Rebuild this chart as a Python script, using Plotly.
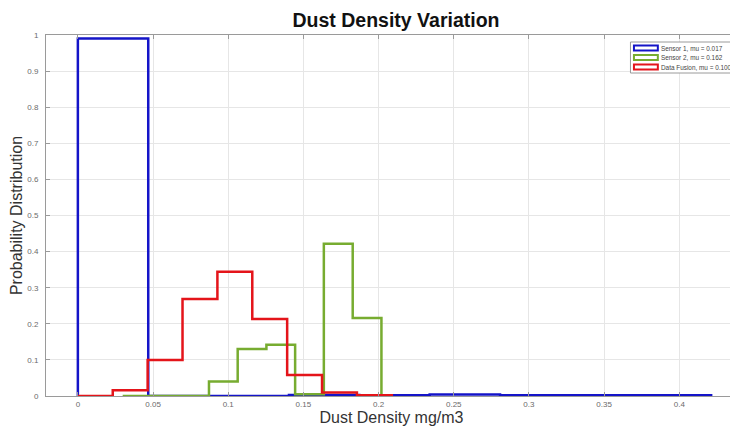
import plotly.graph_objects as go

# Bin edges and probabilities
s1_edges = [0.0, 0.0468, 0.0936, 0.1404, 0.1872, 0.2340, 0.2808, 0.3276, 0.3744, 0.4212]
s1_probs = [0.990, 0.0, 0.0, 0.003, 0.002, 0.004, 0.002, 0.002, 0.002]

s2_edges = [0.0298, 0.0489, 0.0680, 0.0872, 0.1063, 0.1254, 0.1445, 0.1636, 0.1828, 0.2019]
s2_probs = [0.0, 0.0, 0.0, 0.040, 0.130, 0.142, 0.005, 0.422, 0.216]

df_edges = [0.0, 0.0232, 0.0464, 0.0696, 0.0928, 0.1160, 0.1392, 0.1624, 0.1856, 0.2088]
df_probs = [0.0, 0.016, 0.100, 0.269, 0.344, 0.213, 0.058, 0.010, 0.002]

names = ["Sensor 1, mu = 0.017", "Sensor 2, mu = 0.162", "Data Fusion, mu = 0.100"]
colors = ["#1414C8", "#77AC30", "#E4141A"]

x_ticks = [0, 0.05, 0.1, 0.15, 0.2, 0.25, 0.3, 0.35, 0.4]
x_tick_text = ["0", "0.05", "0.1", "0.15", "0.2", "0.25", "0.3", "0.35", "0.4"]
y_ticks = [0, 0.1, 0.2, 0.3, 0.4, 0.5, 0.6, 0.7, 0.8, 0.9, 1]
y_tick_text = ["0", "0.1", "0.2", "0.3", "0.4", "0.5", "0.6", "0.7", "0.8", "0.9", "1"]

FONT = "Liberation Sans, Arial"

fig = go.Figure()
for edges, probs, name, col in [(s1_edges, s1_probs, names[0], colors[0]),
                                (s2_edges, s2_probs, names[1], colors[1]),
                                (df_edges, df_probs, names[2], colors[2])]:
    xs = [edges[0]] + list(edges)
    ys = [0] + list(probs) + [0]
    fig.add_trace(go.Scatter(x=xs, y=ys, mode="lines", line_shape="hv",
                             line=dict(color=col, width=2.5), name=name,
                             showlegend=False))

axis_common = dict(showgrid=True, gridcolor="#e6e6e6", gridwidth=1,
                   showline=True, linecolor="#9a9a9a", linewidth=1, mirror="ticks",
                   ticks="inside", ticklen=4, tickcolor="#9a9a9a", zeroline=False,
                   tickfont=dict(family=FONT, size=8, color="#6b6b6b"))

# Figure is placed at (8,8) in the page by the default body margin.
W, H = 730, 422
L, T, B = 36, 27, 34
PW, PH = W - L, H - T - B


def px(page_x):
    return (page_x - 8 - L) / PW


def py(page_y):
    return (H - B - (page_y - 8)) / PH


fig.update_layout(
    width=W, height=H,
    margin=dict(l=L, r=0, t=T, b=B),
    paper_bgcolor="white", plot_bgcolor="white",
    title=dict(text="<b>Dust Density Variation</b>", x=(396 - 8) / W, xanchor="center",
               y=1 - 12 / H, yanchor="middle",
               font=dict(family=FONT, size=19.5, color="#111111")),
    xaxis=dict(range=[-0.0212, 0.4384], tickvals=x_ticks, ticktext=x_tick_text,
               ticklabelstandoff=0,
               title=dict(text="Dust Density mg/m3", standoff=4,
                          font=dict(family=FONT, size=16, color="#333333")),
               **axis_common),
    yaxis=dict(range=[0, 1], tickvals=y_ticks, ticktext=y_tick_text,
               ticklabelstandoff=5,
               title=dict(text="Probability Distribution", standoff=8,
                          font=dict(family=FONT, size=16, color="#333333")),
               **axis_common),
    showlegend=False,
)

# Manual legend (outlined swatches like the original)
shapes = [dict(type="rect", xref="paper", yref="paper",
               x0=px(631), x1=px(760), y0=py(73), y1=py(42),
               line=dict(color="#9a9a9a", width=1), fillcolor="white", layer="above")]
rows = [48, 57.5, 67]
annotations = []
for name, col, ry in zip(names, colors, rows):
    shapes.append(dict(type="rect", xref="paper", yref="paper",
                       x0=px(634.5), x1=px(658.5), y0=py(ry + 2.5), y1=py(ry - 2.5),
                       line=dict(color=col, width=2), fillcolor="white", layer="above"))
    annotations.append(dict(text=name, xref="paper", yref="paper", x=px(660), y=py(ry),
                            xanchor="left", yanchor="middle", showarrow=False,
                            font=dict(family=FONT, size=6.4, color="#444444")))
fig.update_layout(shapes=shapes, annotations=annotations)

fig.write_html("out.html")
